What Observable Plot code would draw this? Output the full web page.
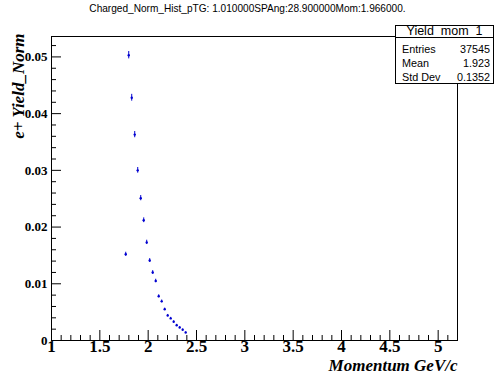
<!DOCTYPE html>
<html>
<head>
<meta charset="utf-8">
<script src="https://cdn.jsdelivr.net/npm/d3@7"></script>
<script src="https://cdn.jsdelivr.net/npm/@observablehq/plot@0.6"></script>
<style>
  html, body { margin: 0; padding: 0; background: #fff; }
  #chart { position: relative; width: 495px; height: 378px; overflow: hidden; background: #fff; }
  #chart svg { position: absolute; left: 0; top: 0; }
  .title {
    position: absolute; left: 0; top: 3px; width: 495px; text-align: center;
    font: 10.1px "Liberation Sans", Arial, sans-serif; color: #000; white-space: nowrap;
  }
  .stats {
    position: absolute; left: 395px; top: 25px; width: 99px; height: 59px;
    border: 1px solid #000; background: #fff; box-sizing: border-box;
    font-family: "Liberation Sans", Arial, sans-serif; color: #000;
  }
  .stats .head {
    position: absolute; left: 0; top: 0; width: 100%; height: 11px; line-height: 11px;
    text-align: center; font-size: 12.5px; border-bottom: 1px solid #000;
  }
  .stats .row { position: absolute; left: 6px; right: 3px; font-size: 10.8px; line-height: 12px; }
  .stats .row span { position: absolute; right: 0; top: 0; }
</style>
</head>
<body>
<div id="chart"></div>
<script>
// Histogram "Yield_mom_1": bin centres (GeV/c), normalised yields and their errors
const momentum = [1.768, 1.799, 1.830, 1.861, 1.892, 1.923, 1.954, 1.985, 2.016, 2.047, 2.078,
                  2.109, 2.140, 2.171, 2.202, 2.233, 2.264, 2.295, 2.326, 2.357, 2.388];
const yieldNorm = [0.0152, 0.0503, 0.0428, 0.0363, 0.0300, 0.0251, 0.0212, 0.0173, 0.0141, 0.0120, 0.0105,
                   0.0078, 0.0069, 0.0055, 0.0044, 0.0039, 0.0033, 0.0027, 0.0023, 0.0019, 0.0014];
const yieldErr = [0.00036, 0.00065, 0.00060, 0.00055, 0.00050, 0.00046, 0.00042, 0.00038, 0.00034, 0.00032, 0.00030,
                  0.00026, 0.00024, 0.00021, 0.00019, 0.00018, 0.00017, 0.00015, 0.00014, 0.00013, 0.00011];

// Axis ticks and labels
const xMajor = [1, 1.5, 2, 2.5, 3, 3.5, 4, 4.5, 5];
const xLabels = ["1", "1.5", "2", "2.5", "3", "3.5", "4", "4.5", "5"];
const xMinor = d3.range(1.1, 5.21, 0.1).map(v => +v.toFixed(1)).filter(v => !xMajor.includes(v));
const yMajor = [0, 0.01, 0.02, 0.03, 0.04, 0.05];
const yLabels = ["0", "0.01", "0.02", "0.03", "0.04", "0.05"];
const yMinor = d3.range(0.002, 0.0536, 0.002).map(v => +v.toFixed(3)).filter(v => !yMajor.includes(v));

// Stats box contents
const histName = "Yield_mom_1";
const statNames = ["Entries", "Mean", "Std Dev"];
const statValues = ["37545", "1.923", "0.1352"];
const chartTitle = "Charged_Norm_Hist_pTG: 1.010000SPAng:28.900000Mom:1.966000.";

const bins = momentum.map((m, i) => ({m, y: yieldNorm[i], e: yieldErr[i]}));

const W = 495, H = 378, mL = 51, mR = 38, mT = 36, mB = 38;
const innerW = W - mL - mR, innerH = H - mT - mB;
const serif = "'Liberation Serif', 'Times New Roman', serif";
const blue = "#0000d0";

const svg = Plot.plot({
  width: W, height: H,
  marginLeft: mL, marginRight: mR, marginTop: mT, marginBottom: mB,
  x: {domain: [1, 5.2], axis: null},
  y: {domain: [0, 0.0536], axis: null},
  style: {background: "transparent", overflow: "visible"},
  marks: [
    Plot.frame({stroke: "#000", strokeWidth: 1}),
    Plot.tickX(xMinor, {x: d => d, insetTop: innerH - 5, stroke: "#000"}),
    Plot.tickX(xMajor, {x: d => d, insetTop: innerH - 10, stroke: "#000"}),
    Plot.tickY(yMinor, {y: d => d, insetRight: innerW - 5, stroke: "#000"}),
    Plot.tickY(yMajor, {y: d => d, insetRight: innerW - 10, stroke: "#000"}),
    Plot.text(xMajor, {x: d => d, text: (d, i) => xLabels[i], frameAnchor: "bottom", dy: 11,
      fontFamily: serif, fontWeight: "bold", fontSize: 17, fill: "#000"}),
    Plot.text(yMajor, {y: d => d, text: (d, i) => yLabels[i], frameAnchor: "left", textAnchor: "end", dx: -4,
      fontFamily: serif, fontWeight: "bold", fontSize: 13, fill: "#000"}),
    Plot.text(["Momentum GeV/c"], {frameAnchor: "bottom-right", textAnchor: "end", dy: 30,
      fontFamily: serif, fontWeight: "bold", fontStyle: "italic", fontSize: 17, fill: "#000"}),
    Plot.text(["e+ Yield_Norm"], {frameAnchor: "top-left", rotate: -90, textAnchor: "end", dx: -40, dy: -3,
      fontFamily: serif, fontWeight: "bold", fontStyle: "italic", fontSize: 17, fill: "#000"}),
    Plot.ruleX(bins, {x: "m", y1: d => d.y - d.e, y2: d => d.y + d.e, stroke: blue, strokeWidth: 1}),
    Plot.dot(bins, {x: "m", y: "y", r: 1.2, fill: blue, stroke: null})
  ]
});

const chart = document.getElementById("chart");
chart.appendChild(svg);

const title = document.createElement("div");
title.className = "title";
title.textContent = chartTitle;
chart.appendChild(title);

const stats = document.createElement("div");
stats.className = "stats";
const head = document.createElement("div");
head.className = "head";
head.textContent = histName;
stats.appendChild(head);
statNames.forEach((name, i) => {
  const row = document.createElement("div");
  row.className = "row";
  row.style.top = (17 + i * 14) + "px";
  row.textContent = name;
  const v = document.createElement("span");
  v.textContent = statValues[i];
  row.appendChild(v);
  stats.appendChild(row);
});
chart.appendChild(stats);
</script>
</body>
</html>
